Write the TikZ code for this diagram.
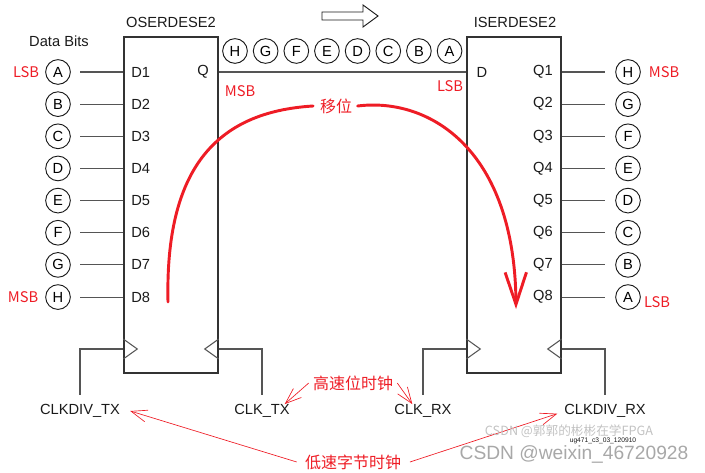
\documentclass[tikz,border=0pt]{standalone}
\usepackage{fontspec}
\setmainfont{Liberation Sans}
\newfontfamily\cjkfont{Noto Sans CJK SC}
\usetikzlibrary{arrows.meta}
\definecolor{ink}{HTML}{1A1A1A}
\definecolor{wiregray}{HTML}{555555}
\definecolor{boxgray}{HTML}{333333}
\definecolor{markred}{HTML}{EE1C25}
\definecolor{wmgray}{HTML}{A8A8A8}
\tikzset{
  serdes/.style={draw=boxgray,line width=1.1pt,minimum width=70.5pt,
                 minimum height=252pt,inner sep=0pt},
  bit/.style={draw=ink,circle,line width=0.7pt,minimum size=18.5pt,
              inner sep=0pt,font=\fontsize{11}{13}\selectfont},
  pin/.style={font=\fontsize{11}{13}\selectfont,inner sep=0pt,text=ink},
  wire/.style={draw=wiregray,line width=0.8pt},
  note/.style={text=markred,font=\cjkfont\fontsize{11}{13}\selectfont,inner sep=0pt},
  bignote/.style={text=markred,font=\cjkfont\fontsize{12}{14}\selectfont,inner sep=0pt},
  hand/.style={draw=markred,line width=2.2pt,line cap=round},
  pointer/.style={draw=markred,line width=0.5pt,-{Straight Barb[length=12pt,width=9pt]}}
}

\begin{document}
\begin{tikzpicture}[x=0.75pt,y=-0.75pt]
\useasboundingbox (0,0) rectangle (705,473);
% two serdes blocks
\node[serdes] (oser) at (171,205) {};
\node[serdes] (iser) at (514,205) {};
\node[pin] (otitle) at (171,22) {OSERDESE2};
\node[pin] (ititle) at (515,22) {ISERDESE2};
\node[pin] (databits) at (59,41) {Data Bits};

% parallel inputs
\foreach \l [count=\i] in {A,B,C,D,E,F,G,H} {
  \pgfmathsetmacro\y{72+32.15*(\i-1)}
  \node[bit] (din\i) at (58,\y) {\l};
  \node[pin,anchor=west] (d\i) at (131,\y) {D\i};
  \draw[wire] ([xshift=7pt]din\i.east) -- (oser.west |- din\i);
}
% parallel outputs
\foreach \l [count=\i] in {H,G,F,E,D,C,B,A} {
  \pgfmathsetmacro\y{72+32.15*(\i-1)}
  \node[bit] (qout\i) at (628,\y) {\l};
  \node[pin,anchor=east] (q\i) at (553,\y) {Q\i};
  \draw[wire] (iser.east |- qout\i) -- ([xshift=-8pt]qout\i.west);
}

% serial link
\node[pin] (qo) at (203,72) {Q};
\node[pin] (di) at (482,72) {D};
\draw[wire] (oser.east |- qo) -- (iser.west |- di);
\foreach \l [count=\i] in {H,G,F,E,D,C,B,A}
  \node[bit] (ser\i) at ({235+30.65*(\i-1)},51) {\l};
\draw[ink,line width=0.7pt] (322,12) -- (363,12) -- (363,5) -- (378,16)
  -- (363,27) -- (363,20) -- (322,20) -- cycle;

% clock pins
\foreach \b in {oser,iser} {
  \draw[wire] (\b.west |- 0,339) -- ++(14,10) -- (\b.west |- 0,359);
  \draw[wire] (\b.east |- 0,339) -- ++(-14,10) -- (\b.east |- 0,359);
}
\node[pin] (clkdivtx) at (80,411) {CLKDIV\_TX};
\node[pin] (clktx) at (262,411) {CLK\_TX};
\node[pin] (clkrx) at (423,411) {CLK\_RX};
\node[pin] (clkdivrx) at (605,411) {CLKDIV\_RX};
\draw[wire] (oser.west |- 0,349) -| ([yshift=6.5pt]clkdivtx.north);
\draw[wire] (oser.east |- 0,349) -| ([yshift=6.5pt]clktx.north);
\draw[wire] (iser.west |- 0,349) -| ([yshift=6.5pt]clkrx.north);
\draw[wire] (iser.east |- 0,349) -| ([yshift=6.5pt]clkdivrx.north);

% red notes
\node[note] (lsbin) at (26,72) {LSB};
\node[note] (msbin) at (23,297) {MSB};
\node[note] (msbq) at (240,91) {MSB};
\node[note] (lsbd) at (450,86) {LSB};
\node[note] (msbout) at (664,72) {MSB};
\node[note] (lsbout) at (657,302) {LSB};

\node[bignote] (shiftlbl) at (336,106) {移位};
\coordinate (shstart) at (168,302);
\coordinate (shend) at (516,309);
\draw[hand] (shstart) .. controls (165,170) and (215,112) .. ([xshift=-5pt]shiftlbl.west);
\draw[hand,-{Straight Barb[length=24pt,width=16pt]}] ([xshift=4pt]shiftlbl.east)
  .. controls (430,97) and (515,150) .. (shend);

\node[bignote] (fastclk) at (353,383) {高速位时钟};
\node[bignote] (slowclk) at (353,462) {低速字节时钟};
\draw[pointer] ([xshift=-3pt]fastclk.west) -- ([xshift=-4pt]clktx.north east);
\draw[pointer] ([xshift=3pt]fastclk.east) -- ([xshift=-8pt]clkrx.north);
\draw[pointer] ([xshift=-6pt]slowclk.west) -- ([xshift=7.5pt]clkdivtx.east);
\draw[pointer] ([xshift=6.5pt]slowclk.east) -- ([xshift=-5pt,yshift=-2pt]clkdivrx.west);

% watermarks
\node[text=wmgray!70,font=\cjkfont\fontsize{9.5}{11}\selectfont,inner sep=0pt] (wmsmall) at (569,431) {CSDN @郭郭的彬彬在学FPGA};
\node[text=ink,font=\fontsize{5}{6}\selectfont,inner sep=0pt] (figid) at (603,441) {ug471\_c3\_03\_120910};
\node[text=wmgray,font=\fontsize{14.4}{16}\selectfont,inner sep=0pt] (wm) at (574,454) {CSDN @weixin\_46720928};
\end{tikzpicture}
\end{document}
